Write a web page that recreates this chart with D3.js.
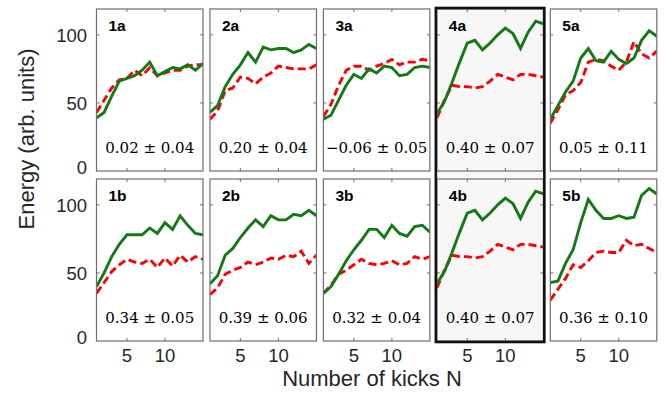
<!DOCTYPE html>
<html><head><meta charset="utf-8">
<script src="https://cdn.jsdelivr.net/npm/d3@7"></script>
<style>body{margin:0;background:#fff}svg{display:block}</style>
</head><body>
<script>
// ---- data ----
const kicks = d3.range(1, 16); // N = 1..15
const panelLabelsTop = ["1a","2a","3a","4a","5a"];
const panelLabelsBottom = ["1b","2b","3b","4b","5b"];
const greenTop = [
  [39,43,55,66,68,70,74,80,70,73,76,75,78,74,79],
  [43,48,62,71,78,87,80,91,89,90,90,87,89,93,90],
  [38,41,52,63,71,68,75,72,77,76,70,71,76,77,76],
  [42,51,65,80,94,96,89,94,100,105,101,90,102,110,108],
  [38,48,58,66,83,90,81,80,88,82,79,83,96,103,99]
];
const redTop = [
  [43,52,61,67,68,74,70,76,70,72,74,74,77,78,78],
  [38,44,59,61,69,68,64,69,72,77,76,75,75,75,78],
  [40,49,63,74,77,77,74,77,79,82,78,80,80,82,81],
  [39,52,63,62,62,61,62,66,71,69,67,71,71,70,69],
  [35,45,56,59,65,80,82,81,77,74,80,95,86,83,88]
];
const greenBottom = [
  [40,50,62,71,78,78,78,83,79,87,82,92,85,79,78],
  [42,48,63,68,76,83,89,84,92,89,89,93,92,96,92],
  [35,40,49,59,67,74,82,82,76,85,79,77,84,85,80],
  [42,51,65,80,94,96,89,94,100,105,101,90,102,110,108],
  [43,44,57,67,87,104,96,90,90,92,90,91,107,112,108]
];
const redBottom = [
  [35,43,51,56,60,58,57,60,54,61,55,63,58,62,60],
  [34,39,49,52,54,58,56,58,61,60,63,62,66,57,63],
  [35,41,49,52,56,60,57,56,57,59,56,57,62,60,62],
  [39,52,63,62,62,61,62,66,71,69,67,71,71,70,69],
  [30,38,46,56,54,59,65,66,65,65,74,70,71,68,65]
];
const annTop = ["0.02 \u00b1 0.04","0.20 \u00b1 0.04","\u22120.06 \u00b1 0.05","0.40 \u00b1 0.07","0.05 \u00b1 0.11"];
const annBottom = ["0.34 \u00b1 0.05","0.39 \u00b1 0.06","0.32 \u00b1 0.04","0.40 \u00b1 0.07","0.36 \u00b1 0.10"];
const xTicks = [5, 10];
const yTicks = [0, 50, 100];
const highlighted = 3; // column index of 4a/4b

// ---- layout ----
const W = 664, H = 404;
const left0 = 96.5, step = 113.45, pw = 106.5, ph = 162;
const rowTops = [9, 179];
const svg = d3.select("body").append("svg").attr("width", W).attr("height", H);

const x = d3.scaleLinear().domain([1, 15]).range([0, pw]);
const y = d3.scaleLinear().domain([0, 119]).range([ph, 0]);
const green = "#137a13", red = "#ff0000", frame = "#6e6e6e";

// highlight background
const hx = left0 + highlighted * step;
svg.append("rect").attr("x", hx).attr("y", rowTops[0]).attr("width", pw)
  .attr("height", rowTops[1] + ph - rowTops[0]).attr("fill", "#f7f7f7");

const rows = [
  {top: rowTops[0], g: greenTop, r: redTop, labels: panelLabelsTop, ann: annTop},
  {top: rowTops[1], g: greenBottom, r: redBottom, labels: panelLabelsBottom, ann: annBottom}
];

const line = d3.line().x((d, i) => x(kicks[i])).y(d => y(d));

rows.forEach((row, ri) => {
  for (let c = 0; c < 5; c++) {
    const g = svg.append("g").attr("transform", `translate(${left0 + c * step},${row.top})`);
    g.append("rect").attr("width", pw).attr("height", ph)
      .attr("fill", c === highlighted ? "#f7f7f7" : "#fff");
    const clip = `clip${ri}${c}`;
    g.append("clipPath").attr("id", clip).append("rect").attr("width", pw).attr("height", ph);
    xTicks.forEach(t => {
      g.append("line").attr("x1", x(t)).attr("x2", x(t)).attr("y1", 0).attr("y2", 3).attr("stroke", frame);
      g.append("line").attr("x1", x(t)).attr("x2", x(t)).attr("y1", ph).attr("y2", ph - 3).attr("stroke", frame);
    });
    yTicks.filter(t => t > 0).forEach(t => {
      g.append("line").attr("x1", 0).attr("x2", 3).attr("y1", y(t)).attr("y2", y(t)).attr("stroke", frame);
      g.append("line").attr("x1", pw).attr("x2", pw - 3).attr("y1", y(t)).attr("y2", y(t)).attr("stroke", frame);
    });
    const lg = g.append("g").attr("clip-path", `url(#${clip})`);
    lg.append("path").datum(row.r[c]).attr("d", line).attr("fill", "none")
      .attr("stroke", red).attr("stroke-width", 2.9).attr("stroke-dasharray", "8,4");
    lg.append("path").datum(row.g[c]).attr("d", line).attr("fill", "none")
      .attr("stroke", green).attr("stroke-width", 2.9).attr("stroke-linejoin", "miter");
    g.append("rect").attr("width", pw).attr("height", ph).attr("fill", "none")
      .attr("stroke", frame).attr("stroke-width", 1.2);
    g.append("text").attr("x", 12).attr("y", 22).text(row.labels[c])
      .attr("font-family", "Liberation Sans, Arial, sans-serif").attr("font-weight", "bold")
      .attr("font-size", 15.5).attr("fill", "#000");
    g.append("text").attr("x", pw / 2).attr("y", 144).attr("text-anchor", "middle").text(row.ann[c])
      .attr("font-family", "DejaVu Serif, serif").attr("font-size", 15).attr("fill", "#000");
  }
  yTicks.forEach(t => {
    const yy = Math.min(row.top + y(t), row.top + ph - 4);
    svg.append("text").attr("x", 87).attr("y", yy + 7).attr("text-anchor", "end").text(t)
      .attr("font-family", "Liberation Sans, Arial, sans-serif").attr("font-size", 18.5).attr("fill", "#262626");
  });
});

for (let c = 0; c < 5; c++) {
  xTicks.forEach(t => {
    svg.append("text").attr("x", left0 + c * step + x(t)).attr("y", 362).attr("text-anchor", "middle").text(t)
      .attr("font-family", "Liberation Sans, Arial, sans-serif").attr("font-size", 18.5).attr("fill", "#262626");
  });
}

svg.append("rect").attr("x", hx - 1).attr("y", rowTops[0] - 1).attr("width", pw + 2)
  .attr("height", rowTops[1] + ph - rowTops[0] + 2).attr("fill", "none")
  .attr("stroke", "#111").attr("stroke-width", 2.6);

svg.append("text").attr("x", 372).attr("y", 386).attr("text-anchor", "middle").text("Number of kicks N")
  .attr("font-family", "Liberation Sans, Arial, sans-serif").attr("font-size", 22).attr("fill", "#262626");
svg.append("text").attr("transform", "translate(34,139) rotate(-90)").attr("text-anchor", "middle")
  .text("Energy (arb. units)")
  .attr("font-family", "Liberation Sans, Arial, sans-serif").attr("font-size", 22).attr("fill", "#262626");
</script>
</body></html>
